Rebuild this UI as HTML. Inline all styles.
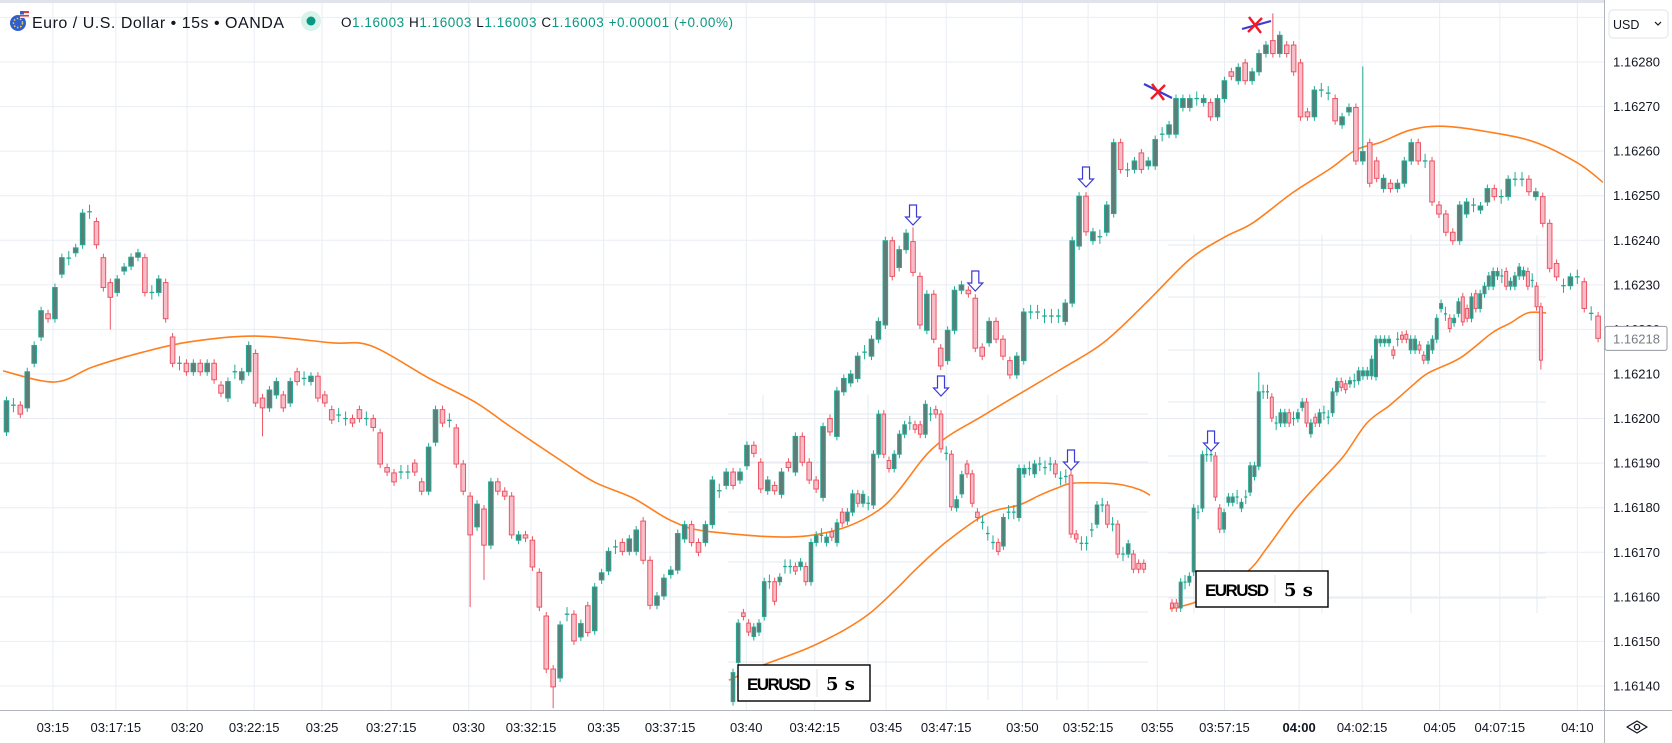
<!DOCTYPE html>
<html><head><meta charset="utf-8"><title>EURUSD 15s</title>
<style>
html,body{margin:0;padding:0;background:#fff;overflow:hidden;}
svg{display:block;font-family:"Liberation Sans",sans-serif;}
</style></head>
<body>
<svg id="chart" width="1672" height="743" viewBox="0 0 1672 743">
  <rect x="0" y="0" width="1672" height="743" fill="#ffffff"/>
  <g id="grid"></g>
  <g id="insetGrid"></g>
  <g id="plot"></g>
  <g id="annot"></g>
  <rect x="0" y="0" width="1672" height="3" fill="#e0e3eb"/>
  <g>
    <g>
      <circle cx="18" cy="23" r="8" fill="#2f5fcf"/>
      <circle cx="18" cy="23" r="4.5" fill="none" stroke="#f5d23a" stroke-width="1.5" stroke-dasharray="1.5 1.8"/>
      <rect x="20" y="11" width="9" height="7" fill="#e9eef8"/>
      <rect x="20" y="11" width="9" height="2" fill="#e23a3a"/>
      <rect x="20" y="15" width="9" height="1.5" fill="#e23a3a"/>
      <rect x="20" y="11" width="4" height="3.5" fill="#3a5fc8"/>
    </g>
    <text x="32" y="28" font-size="16" fill="#131722" textLength="252">Euro / U.S. Dollar • 15s • OANDA</text>
    <circle cx="311" cy="21" r="10" fill="#d9f2ec"/>
    <circle cx="311" cy="21" r="4.5" fill="#089981"/>
    <text x="341" y="27" font-size="13.5" fill="#089981" textLength="392"><tspan fill="#131722">O</tspan>1.16003 <tspan fill="#131722">H</tspan>1.16003 <tspan fill="#131722">L</tspan>1.16003 <tspan fill="#131722">C</tspan>1.16003 +0.00001 (+0.00%)</text>
  </g>
  <g id="axes"></g>
</svg>
<script>
// ===== data (prices as 1e-5 above 1.16000) =====
const mainOpen = [197,203,203,202.4,212.4,218.3,223.5,222.4,232.4,236,237.2,239,246.4,244.2,236.1,230.5,228.3,233.1,234.2,236.2,236.1,228.3,228.3,230.5,218.3,212.4,212.4,210.5,212.4,210.5,212.4,207.5,204.6,210.5,208.7,210.5,214.6,204.6,202.4,205.3,205.3,203.5,210.5,209,208.3,209.5,205.3,202,200.8,200,200,202,200,200,196.8,189,187.8,188,188,190,185.8,183.7,194.7,202,199.6,197.9,189.8,182.6,175.7,179.7,171.6,185.8,183.7,182.6,172.7,173.9,172.7,165.5,155.7,143.8,141.8,
156.1,156.1,151,158,152.4,163.8,165.8,171.2,172.2,170.2,170.2,177,168.2,158.1,160.2,165,166,173,176.2,172.2,172.2,176.2,183.8,185,188,186.2,189.4,194,190.2,183.8,185,183,190.2,188,196,190.2,186.2,182.3,200,196,206,208,209,214.9,214,217.8,221,239.9,233.9,237.9,239.7,231.9,219.8,227.9,215.8,213,219.8,228.8,228.8,227,216,217,221.8,217.8,213,209.8,213,223.9,223.9,223,223,223,221.8,225.9,238.7,249.9,239.9,
240.8,241.8,246,261.9,255.8,255.9,259.6,256.7,256.7,263.8,263.8,263.8,269.8,269.8,271.8,270.9,270.9,267.7,271.8,277.8,275.8,279.8,275.8,277.8,281.9,284.8,281.9,283.8,283.8,279.8,268.8,267.7,273.7,273,271.8,265.9,268.8,269.8,257.8,261.9,257.8,251.6,252.8,251.6,252.8,257.8,261.9,257.8,257.8,247.9,245.9,241.8,239.9,245.9,247.9,246.8,248.6,251.6,249.8,249.8,253.7,253.7,253.7,249.8,249.8,243.8,234.8,229.8,229.8,231.8,230.7,223.6,223];
const mainClose = [204,203,201,210.5,216.4,224.2,222.4,229.4,236.1,236,238.3,246.1,246.4,239,229.4,227.2,231.3,234,236.2,237.2,228.3,228.3,231.3,222.4,212.4,212.4,210.5,212.4,210.5,212.4,208.7,205.7,208.3,210.5,210.5,216.4,203.5,202.4,206.4,208.3,202.4,208.3,208.3,209,209.5,204.6,203.5,199.7,200.8,200,199,200,200,198,189.8,188,185.8,188,188,188,183.7,193.6,202,199,199.6,189.8,183.7,173.9,180.8,171.6,185.8,183.7,182.6,173.9,173.9,173.2,166.7,157.7,143.8,139.8,153.7,
156.1,150.1,154,152,162.2,165.4,170.2,171.2,170.2,173,175,168.2,158.1,160.2,164.2,166,174.2,176.2,172.2,170,176.2,186.2,183.8,188,185,188,194,192.2,184.2,186.2,183.8,188,189,196,190.2,186.2,184.2,198.2,197,206.2,209,210,214,214.9,217.8,221.8,239.9,231.9,237.9,241.6,232.8,221,227.9,217.8,211.8,219.8,228.8,230,228,215.8,214,221.8,217.8,214,209.8,214,223.9,223.9,223.9,223,223,223,225.9,239.9,249.9,241.9,241.9,
240.8,247.9,261.9,255.9,255.8,257.8,255.9,257.8,262.6,263.8,265.9,271.8,271.8,271.8,271.8,271.8,267.7,271.8,275.8,276.8,278.8,275.8,277.8,281.9,283.8,281.9,286,281.9,277.8,267.7,267.7,273.7,273.7,273,266.8,267.7,269.8,257.8,259.9,252.8,253.9,253.9,251.6,252.8,257.8,261.9,257.8,257.8,248.6,245.9,241.8,239.9,247.9,248.6,247.9,247.7,251.6,249.8,249.8,253.7,253.7,253.7,250.9,250.9,243.8,233.7,231.8,229.8,231.8,231.8,224.7,223.6,218];
const mainWickIdx = [15,37,67,69,79,131,183,196];
const mainWickTo  = [220,196,157.7,163.8,135,242.9,290.9,279];

const maBars = [-0.5,7,12.5,19.7,26.4,35.9,47,52.7,61,67.7,72.9,80,84.9,90.5,96.2,101.8,115.8,126.1,133.9,141.5,152.2,158.5,164.7,170.9,176,180.1,185.8,191.4,195,198.6,202.8,207.4,214.2,220.9,227.1,230.7];
const maValues = [210.7,208.2,211.6,214.9,217.2,218.5,217,216.3,209.1,203.7,198.1,190.7,185.8,182.2,177,174.6,173.7,179.5,193.4,201,210.9,217,226,235.6,240.7,243.9,250.6,256.2,260.3,262,264.7,265.6,264.3,262,257.3,253];

const inset1Open = [136.5,145.3,156.4,154.1,151.1,152.1,155.6,163.4,163.4,163.4,166.8,166.8,166.8,166.8,166.8,163.4,172.2,173.8,172.2,174.6,172.2,179,177,179,183.1,181,181,180.6,192,201,190.6,188.8,192,196.5,199,198.6,198.6,196.5,201,202,201,192.2,192,180,183.1,189.8,187.6,179,176.7,174.2,172.2,172.2,171.4,179,179,177.8,187.6,188.8,187.6,189.8,189,189.8,189.8,186.6,187,187.3,174.1,172,172,175,176.3,180.6,180.6,176.3,176.3,169.6,169.6,169.6,167.5,167.5];
const inset1Close = [143,154.1,155.6,152.1,153.2,154.1,163.4,163.4,159,164.4,166.8,166.8,165.8,167.8,163.4,172.2,173.8,173.8,173.4,173.4,176.6,176.6,179,183.1,181,183,181,192,201,192,188.8,192,196.5,198.6,199,197.6,196.5,203.2,201,201,193.2,192.2,180.2,181.8,187.4,187.6,181,177.8,176.7,174.2,172.2,170.2,177.8,179,179,188.8,188.8,188.8,189.8,189.8,189,189.8,187.6,186.6,187,174.1,173,172,172,175,180.6,180.6,176.3,176.3,169.6,169.6,171.9,166.2,166.2,166.2];
const inset1MaBars = [-0.8,5.4,14.4,21.3,26.2,31,35.8,41.2,48.7,55,59,62.3,65.4,71.9,75,78.3,80.2];
const inset1MaValues = [141.3,144.5,148.5,152.5,156.2,161.3,166.9,172.5,178.6,180.6,182.8,184.4,185.5,185.5,185.1,184,182.8];

const inset2Open = [158.6,158.6,157.5,163.3,163.3,165.6,179,179.9,191.9,191.9,191.6,179.9,175.2,181.2,181.2,182.4,179.9,182.4,183.5,187,189.3,206,206,204.8,199,199,199,201.3,200,200,202.5,203.7,196.6,200.3,199,201.3,200.3,201.3,206,208.3,207.8,207.8,208.5,208.5,209.6,209.6,209.6,
209.4,217,217,217,215.4,217.8,218.7,218.9,215.4,215.4,216.5,214.2,213.1,215.4,217.8,224.7,223.5,222.5,221.5,223.6,227.3,224.7,222.5,228,224.7,228,229.7,229.7,232,232,233,229.7,229.7,232,232,233,231,229.7,225.1];
const inset2Close = [157.5,157.5,163.3,163.3,164.6,179.9,179,191.9,191.9,191.9,182.4,175.2,178.9,182.4,182.4,182.4,181.2,182.4,189.4,189.4,206,206,206,200.1,199,201.3,201.3,199,200,201.3,203.7,199,199,199,201.3,201.3,200.3,206,208.3,207,206.5,208.5,208.5,210.7,210.7,210.7,213.3,
217.8,217.8,217.8,217.8,214.2,217.8,217.8,217.8,217.8,217.8,215.4,213.1,216.5,217.8,222.5,225.8,223.5,220.2,222.5,226.2,221.7,222.5,227.3,224.7,228,229.7,232,233,233,232,229.7,230.8,232,234,233.2,229.7,231,225.1,213.1];
const inset2MaBars = [-0.5,4.8,8.8,17.3,21.9,27.9,33.4,39.4,44.9,50.2,54.8,59,66.4,73.7,77.9,82,86.2];
const inset2MaValues = [157.3,158.6,160.4,165.6,171,179,185.1,191.4,199,203,206.9,210.2,213.6,219.2,221.4,223.7,223.7];

const priceTicks = [280,270,260,250,240,230,220,210,200,190,180,170,160,150,140];
const tickLabels = ['03:15','03:17:15','03:20','03:22:15','03:25','03:27:15','03:30','03:32:15','03:35','03:37:15','03:40','03:42:15','03:45','03:47:15','03:50','03:52:15','03:55','03:57:15','04:00','04:02:15','04:05','04:07:15','04:10'];
const tickBars = [6.7,15.8,26.1,35.8,45.6,55.6,66.8,75.8,86.3,95.9,106.9,116.8,127.1,135.8,146.8,156.3,166.3,176,186.8,195.9,207.1,215.8,227];
const currentPrice = 218;

// ===== scales =====
const NS = 'http://www.w3.org/2000/svg';
function y(p){ return 62 + (280 - p) * 4.457; }
function xMain(i){ return 6.5 + i * 6.92; }
function x1(i){ return 733 + i * 5.2; }
function x2(i){ return 1172 + i * 4.34; }
function mk(tag, attrs, parent){
  const e = document.createElementNS(NS, tag);
  for (const k in attrs) e.setAttribute(k, attrs[k]);
  parent.appendChild(e);
  return e;
}
const grid = document.getElementById('grid');
const igrid = document.getElementById('insetGrid');
const plot = document.getElementById('plot');
const annot = document.getElementById('annot');
const axes = document.getElementById('axes');
const GRID = '#e9edf3';

// ===== main grid =====
priceTicks.concat([290]).forEach(p => {
  const l = mk('line', {x1:0, x2:1604, y1:y(p), y2:y(p), stroke:GRID, 'stroke-width':1}, grid);
  
  
});
tickBars.forEach(b => {
  const l = mk('line', {x1:xMain(b), x2:xMain(b), y1:0, y2:710, stroke:GRID, 'stroke-width':1}, grid);
  
  
});

[414,462,512,562,612,662].forEach(v => {
  const l = mk('line', {x1:728, x2:1148, y1:v, y2:v, stroke:'#e6ebf1', 'stroke-width':1}, igrid);
  
  
});
[763,868,988,1057].forEach(v => {
  const l = mk('line', {x1:v, x2:v, y1:395, y2:700, stroke:'#e6ebf1', 'stroke-width':1}, igrid);
  
  
});
[245,297,350,402,456,508,553,598].forEach(v => {
  const l = mk('line', {x1:1168, x2:1546, y1:v, y2:v, stroke:'#e6ebf1', 'stroke-width':1}, igrid);
  
  
});
[1194,1322,1411,1537].forEach(v => {
  const l = mk('line', {x1:v, x2:v, y1:235, y2:613, stroke:'#e6ebf1', 'stroke-width':1}, igrid);
  
  
});

// ===== candles =====
const UP_S = '#22ab94', UP_F = '#5e7d78', DN_S = '#ec5563', DN_F = '#f8bdc8';
function candle(cx, o, c, w, hi, lo, name){
  const g = mk('g', {}, plot);
  
  
  const up = c >= o;
  const s = up ? UP_S : DN_S;
  mk('line', {x1:cx, x2:cx, y1:y(hi), y2:y(lo), stroke:s, 'stroke-width':1}, g);
  if (Math.abs(c - o) < 0.3) {
    mk('line', {x1:cx - w/2, x2:cx + w/2, y1:y(c), y2:y(c), stroke:s, 'stroke-width':1.3}, g);
  } else {
    const top = y(Math.max(o, c)), bot = y(Math.min(o, c));
    mk('rect', {x:cx - w/2, y:top, width:w, height:Math.max(1, bot - top), fill:up ? UP_F : DN_F, stroke:s, 'stroke-width':1}, g);
  }
}
function series(opens, closes, xf, w, wIdx, wTo, name){
  for (let i = 0; i < opens.length; i++){
    const o = opens[i], c = closes[i];
    const doji = Math.abs(c - o) < 0.3;
    let hi = Math.max(o, c) + (doji ? 1.6 : 0.9);
    let lo = Math.min(o, c) - (doji ? 1.6 : 0.9);
    const k = wIdx.indexOf(i);
    if (k >= 0){ if (wTo[k] > hi) hi = wTo[k]; if (wTo[k] < lo) lo = wTo[k]; }
    candle(xf(i), o, c, w, hi, lo, name);
  }
}
function maLine(bars, vals, xf, name){
  const pts = bars.map((b, i) => [xf(b), y(vals[i])]);
  let d = 'M' + pts[0][0].toFixed(1) + ' ' + pts[0][1].toFixed(1);
  for (let i = 0; i < pts.length - 1; i++){
    const p0 = pts[Math.max(0, i - 1)], p1 = pts[i], p2 = pts[i + 1], p3 = pts[Math.min(pts.length - 1, i + 2)];
    const c1x = p1[0] + (p2[0] - p0[0]) / 6, c1y = p1[1] + (p2[1] - p0[1]) / 6;
    const c2x = p2[0] - (p3[0] - p1[0]) / 6, c2y = p2[1] - (p3[1] - p1[1]) / 6;
    d += 'C' + c1x.toFixed(1) + ' ' + c1y.toFixed(1) + ' ' + c2x.toFixed(1) + ' ' + c2y.toFixed(1) + ' ' + p2[0].toFixed(1) + ' ' + p2[1].toFixed(1);
  }
  const p = mk('path', {d:d, fill:'none', stroke:'#ff7f1e', 'stroke-width':1.6, 'stroke-linejoin':'round'}, plot);
  
  
}
maLine(maBars, maValues, xMain, 'moving-average-line');
maLine(inset1MaBars, inset1MaValues, x1, 'inset1-moving-average');
maLine(inset2MaBars, inset2MaValues, x2, 'inset2-moving-average');
series(mainOpen, mainClose, xMain, 4.6, mainWickIdx, mainWickTo, 'candle');
series(inset1Open, inset1Close, x1, 3.6, [65], [190], 'inset1-candle');
series(inset2Open, inset2Close, x2, 3.0, [20, 85], [210.4, 211], 'inset2-candle');

// ===== annotations =====
function arrow(cx, tipY){
  const g = mk('g', {}, annot);
  
  
  const t = tipY;
  const d = `M${cx-3.5} ${t-20}L${cx+3.5} ${t-20}L${cx+3.5} ${t-8}L${cx+7.5} ${t-8}L${cx} ${t}L${cx-7.5} ${t-8}L${cx-3.5} ${t-8}Z`;
  mk('path', {d:d, fill:'#ffffff', stroke:'#3b3bd6', 'stroke-width':1.2}, g);
}
arrow(xMain(131), 225);
arrow(xMain(140), 291);
arrow(xMain(156), 187);
arrow(x1(40), 396);
arrow(x1(65), 470);
arrow(x2(9), 451);
function cross(cx, cy, bx1, by1, bx2, by2){
  const g = mk('g', {}, annot);
  
  
  mk('line', {x1:bx1, y1:by1, x2:bx2, y2:by2, stroke:'#3b3bd6', 'stroke-width':2.2}, g);
  mk('line', {x1:cx-6, y1:cy-8, x2:cx+6, y2:cy+8, stroke:'#ee1c25', 'stroke-width':2.4}, g);
  mk('line', {x1:cx+7, y1:cy-7, x2:cx-7, y2:cy+7, stroke:'#ee1c25', 'stroke-width':2.4}, g);
}
cross(1158, 92, 1144, 84, 1172, 98);
cross(1255, 25, 1242, 29, 1271, 21);

function labelBox(bx, by, name){
  const g = mk('g', {}, annot);
  
  
  mk('rect', {x:bx, y:by, width:132, height:36, fill:'#ffffff', stroke:'#000', 'stroke-width':1.4}, g);
  const t1 = mk('text', {x:bx + 9, y:by + 25, 'font-size':17, 'font-weight':'bold', fill:'#000', textLength:64}, g);
  t1.textContent = 'EURUSD';
  mk('line', {x1:bx + 79, x2:bx + 79, y1:by + 4, y2:by + 32, stroke:'#e3e3e3', 'stroke-width':1}, g);
  const t2 = mk('text', {x:bx + 88, y:by + 25, 'font-size':18, 'font-weight':'bold', fill:'#000', 'font-family':'"DejaVu Serif", serif'}, g);
  t2.textContent = '5 s';
}
labelBox(738, 665, 'inset1-symbol-label');
labelBox(1196, 571, 'inset2-symbol-label');

// ===== axes =====
mk('rect', {x:1604, y:0, width:68, height:743, fill:'#ffffff'}, axes);
mk('rect', {x:0, y:710, width:1604, height:33, fill:'#ffffff'}, axes);
mk('line', {x1:1604.5, x2:1604.5, y1:0, y2:743, stroke:'#b2b5be', 'stroke-width':1}, axes);
mk('line', {x1:0, x2:1672, y1:710.5, y2:710.5, stroke:'#b2b5be', 'stroke-width':1}, axes);
priceTicks.forEach(p => {
  const t = mk('text', {x:1613, y:y(p) + 4.5, 'font-size':13, fill:'#131722'}, axes);
  
  
  t.textContent = '1.16' + String(p).padStart(3, '0');
});
tickLabels.forEach((s, i) => {
  const t = mk('text', {x:xMain(tickBars[i]), y:732, 'font-size':13, fill:'#131722', 'text-anchor':'middle', 'font-weight':s === '04:00' ? 'bold' : 'normal'}, axes);
  
  
  t.textContent = s;
});
const cp = mk('g', {}, axes);


mk('rect', {x:1605, y:y(currentPrice) - 12, width:62, height:24, rx:2, fill:'#ffffff', stroke:'#9598a1', 'stroke-width':1}, cp);
const cpt = mk('text', {x:1613, y:y(currentPrice) + 5, 'font-size':13, fill:'#787b86'}, cp);
cpt.textContent = '1.16' + String(currentPrice).padStart(3, '0');
const usd = mk('g', {}, axes);


mk('rect', {x:1609, y:10, width:59, height:28, rx:4, fill:'#ffffff', stroke:'#e0e3eb', 'stroke-width':1}, usd);
const ut = mk('text', {x:1613, y:29, 'font-size':12.5, fill:'#131722'}, usd);
ut.textContent = 'USD';
mk('path', {d:'M1655 22L1658 25L1661 22', fill:'none', stroke:'#131722', 'stroke-width':1.2}, usd);
const eye = mk('g', {}, axes);


mk('path', {d:'M1627 727L1637 721L1647 727L1637 733Z', fill:'none', stroke:'#131722', 'stroke-width':1.3, 'stroke-linejoin':'round'}, eye);
mk('circle', {cx:1637, cy:727, r:2.6, fill:'none', stroke:'#131722', 'stroke-width':1.3}, eye);
</script>
</body></html>
